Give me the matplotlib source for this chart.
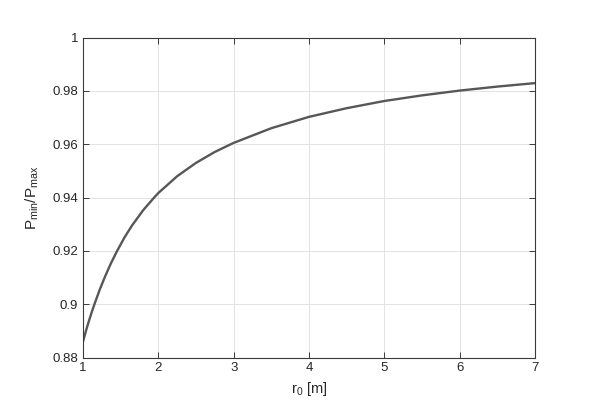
import matplotlib
matplotlib.use("Agg")
import matplotlib.pyplot as plt

# values
r0 = [1.0, 1.04, 1.075, 1.12, 1.163, 1.225, 1.296, 1.37, 1.451, 1.55, 1.65, 1.8,
      1.938, 2.0, 2.25, 2.5, 2.75, 3.0, 3.5, 4.0, 4.5, 5.0, 5.5, 6.0, 6.5, 7.0]
ratio = [0.8860, 0.8901, 0.8934, 0.8974, 0.9009, 0.9057, 0.9106, 0.9153, 0.9199,
         0.9250, 0.9295, 0.9353, 0.9398, 0.9417, 0.9480, 0.9530, 0.9571, 0.9605,
         0.9660, 0.97025, 0.9735, 0.9762, 0.9783, 0.9801, 0.9816, 0.9829]

xticks = [1, 2, 3, 4, 5, 6, 7]
yticks = [0.88, 0.9, 0.92, 0.94, 0.96, 0.98, 1.0]
yticklabels = ["0.88", "0.9", "0.92", "0.94", "0.96", "0.98", "1"]

plt.rcParams["font.family"] = ["Liberation Sans", "DejaVu Sans"]
plt.rcParams["mathtext.fontset"] = "custom"
plt.rcParams["mathtext.rm"] = "Liberation Sans"

fig = plt.figure(figsize=(5.98, 4.18), dpi=100)
ax = fig.add_axes([83 / 598, 1 - 357.6 / 418, 452 / 598, 320.1 / 418])

ax.plot(r0, ratio, color="#575757", linewidth=1.7, solid_capstyle="butt",
        solid_joinstyle="round")

ax.set_xlim(1, 7)
ax.set_ylim(0.88, 1.0)
ax.set_xticks(xticks)
ax.set_yticks(yticks)
ax.set_yticklabels(yticklabels)

ax.grid(True, color="#e3e3e3", linewidth=0.7)
ax.set_axisbelow(True)
for s in ax.spines.values():
    s.set_color("#3a3a3a")
    s.set_linewidth(0.8)
ax.tick_params(direction="in", top=True, right=True, length=4, width=0.7,
               colors="#3a3a3a", labelcolor="#262626", labelsize=9.5)

ax.set_xlabel(r"$\mathregular{r_0}$ [m]", fontsize=10.5, color="#262626", labelpad=4)
ax.set_ylabel(r"$\mathregular{P_{min}/P_{max}}$", fontsize=11, color="#262626", labelpad=8)

fig.savefig("out.png", dpi=100)
